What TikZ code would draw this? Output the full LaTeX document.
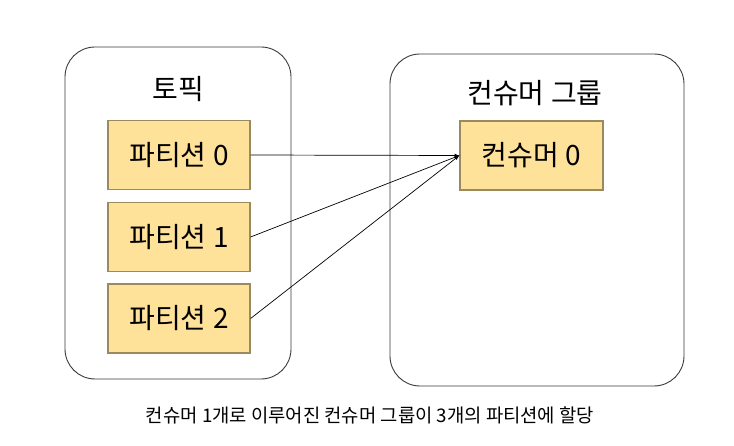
\documentclass[tikz,border=0pt]{standalone}
\usepackage{fontspec}
\setmainfont{Noto Sans CJK KR}
\usepackage{tikz}
\usetikzlibrary{positioning, arrows}
\definecolor{boxyellow}{HTML}{FFE29A}
\definecolor{boxedge}{HTML}{9A8A60}
\definecolor{frameline}{HTML}{3A3A3A}

\tikzset{
	frame/.style={draw=frameline, line width=0.9pt, rounded corners=30pt},
	bigtext/.style={font=\fontsize{28}{32}\selectfont},
	partbox/.style={draw=boxedge, fill=boxyellow, line width=1.2pt, minimum width=142pt, minimum height=69pt, bigtext, inner sep=0pt},
	link/.style={-latex, line width=0.7pt}
}

\begin{document}
\begin{tikzpicture}[x=1pt, y=-1pt]
	\useasboundingbox (0,0) rectangle (734,446);
	\draw[frame] (65,47) rectangle (291,379);
	\draw[frame] (390,54) rectangle (684,386);
	
	\node[bigtext] (topic) at (178,89) {토픽};
	\node[bigtext] (group) at (535,93) {컨슈머 그룹};
	
	\node[partbox] (part0) at (179,155) {파티션 0};
	\node[partbox] (part1) at (179,237) {파티션 1};
	\node[partbox] (part2) at (179,318.5) {파티션 2};
	\node[partbox, minimum width=143pt] (cons0) at (531.5,155.5) {컨슈머 0};
	
	\draw[link] (part0.east) -- (cons0.west);
	\draw[link] (part1.east) -- (cons0.west);
	\draw[link] (part2.east) -- (cons0.west);
	
	\node[font=\fontsize{18.8}{22}\selectfont] (caption) at (370,415) {컨슈머 1개로 이루어진 컨슈머 그룹이 3개의 파티션에 할당};
\end{tikzpicture}
\end{document}
